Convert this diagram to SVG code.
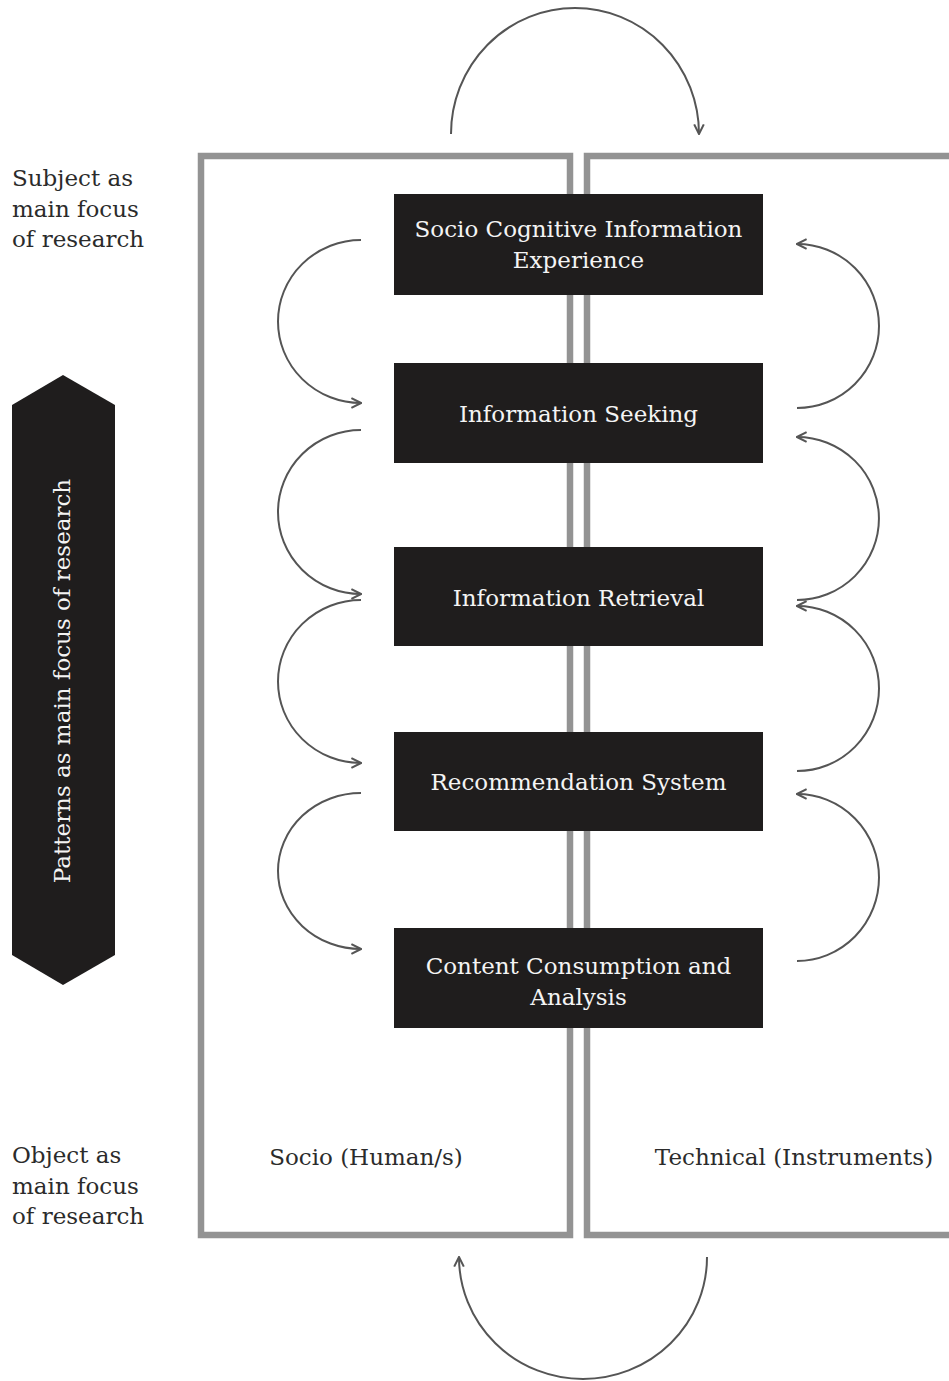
<svg xmlns="http://www.w3.org/2000/svg" width="949" height="1381" viewBox="0 0 949 1381">
<defs>
<style>
.panel{fill:none;stroke:#939393;stroke-width:6.5}
.box{fill:#1f1d1d}
.bt{font-family:"DejaVu Serif","Liberation Serif",serif;font-size:23px;fill:#f4f4f4;text-anchor:middle}
.side{font-family:"DejaVu Serif","Liberation Serif",serif;font-size:23px;fill:#2b2b2b}
.lbl{font-family:"DejaVu Serif","Liberation Serif",serif;font-size:23px;fill:#2b2b2b;text-anchor:middle}
.arc{fill:none;stroke:#555;stroke-width:2;marker-end:url(#ah)}
</style>
<marker id="ah" viewBox="0 0 10 10" refX="9" refY="5" markerUnits="userSpaceOnUse" markerWidth="12" markerHeight="12" orient="auto">
<path d="M1,1 L9,5 L1,9" fill="none" stroke="#555" stroke-width="1.7"/>
</marker>
</defs>
<rect width="949" height="1381" fill="#fff"/>

<g id="panels">
<path id="socio-panel" class="panel" d="M201,156 H570 V1235 H201 Z"/>
<path id="technical-panel" class="panel" d="M955,156 H587 V1235 H955"/>
</g>

<g id="connectors">
<path class="arc" d="M451,134 A124,126 0 0 1 699,134"/>
<path class="arc" d="M707,1257 A124,122 0 0 1 459,1257"/>
<path class="arc" d="M361,240 A83,81.5 0 0 0 361,403"/>
<path class="arc" d="M361,430 A83,82 0 0 0 361,594"/>
<path class="arc" d="M361,600 A83,81.5 0 0 0 361,763"/>
<path class="arc" d="M361,793 A83,78 0 0 0 361,949"/>
<path class="arc" d="M797,408 A82,82 0 0 0 797,244"/>
<path class="arc" d="M797,600 A82,81.5 0 0 0 797,437"/>
<path class="arc" d="M797,771 A82,82.5 0 0 0 797,606"/>
<path class="arc" d="M797,961 A82,83.5 0 0 0 797,794"/>
</g>

<g id="node-socio-cognitive">
<rect class="box" x="394" y="194" width="369" height="101"/>
<text class="bt" x="578.5" y="237">Socio Cognitive Information</text>
<text class="bt" x="578.5" y="268">Experience</text>
</g>
<g id="node-information-seeking">
<rect class="box" x="394" y="363" width="369" height="100"/>
<text class="bt" x="578.5" y="422">Information Seeking</text>
</g>
<g id="node-information-retrieval">
<rect class="box" x="394" y="547" width="369" height="99"/>
<text class="bt" x="578.5" y="606">Information Retrieval</text>
</g>
<g id="node-recommendation">
<rect class="box" x="394" y="732" width="369" height="99"/>
<text class="bt" x="578.5" y="790">Recommendation System</text>
</g>
<g id="node-content-consumption">
<rect class="box" x="394" y="928" width="369" height="100"/>
<text class="bt" x="578.5" y="974">Content Consumption and</text>
<text class="bt" x="578.5" y="1005">Analysis</text>
</g>

<g id="patterns-arrow">
<polygon points="63,375 115,405 115,955 63,985 12,955 12,405" fill="#1f1d1d"/>
<text class="bt" font-size="22.5" transform="translate(70,681) rotate(-90)">Patterns as main focus of research</text>
</g>

<g id="subject-label">
<text class="side" x="12" y="186">Subject as</text>
<text class="side" x="12" y="217">main focus</text>
<text class="side" x="12" y="247">of research</text>
</g>
<g id="object-label">
<text class="side" x="12" y="1163">Object as</text>
<text class="side" x="12" y="1194">main focus</text>
<text class="side" x="12" y="1224">of research</text>
</g>
<g id="socio-label">
<text class="lbl" x="366" y="1165">Socio (Human/s)</text>
</g>
<g id="technical-label">
<text class="lbl" x="794" y="1165">Technical (Instruments)</text>
</g>
</svg>
